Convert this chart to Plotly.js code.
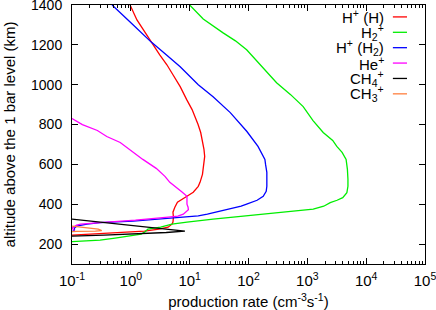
<!DOCTYPE html>
<html><head><meta charset="utf-8">
<script src="https://cdn.plot.ly/plotly-3.0.1.min.js"></script>
<style>html,body{margin:0;padding:0;background:#fff;overflow:hidden;}#chart{width:436px;height:310px;}</style>
</head><body><div id="chart"></div>
<script>
// H+ (H)
var altHH = [245,250,258,265,275,285,300,310,335,360,385,410,440,460,490,510,550,590,640,675,720,760,800,840,875,925,990,1050,1100,1150,1215,1270,1325,1400];
var rateHH = [0.1,0.2,0.5,1.7,3.0,4.3,5.0,5.2,5.3,5.2,5.6,6.2,9,11.5,14,15,16.5,17,18,17.5,16.3,15.4,13.9,12.2,11,8.9,6.9,5.2,4.1,3.1,2.2,1.67,1.27,0.97];
// H2+
var altH2 = [212,220,230,240,250,262,275,285,300,310,316,325,335,342,350,358,365,375,390,408,420,433,458,490,525,575,625,660,690,720,760,820,890,950,1010,1090,1175,1220,1260,1330,1400];
var rateH2 = [0.1,0.3,0.54,0.9,1.5,1.75,1.95,3.2,5,9,15,25,55,93,180,350,700,1260,1900,2450,3200,4000,4700,4900,4900,4800,4560,3900,3170,2700,1860,1250,850,520,300,170,93,60,37,17,10];
// H+ (H2)
var altHH2 = [262,270,280,290,300,308,315,325,333,342,350,360,375,390,400,420,440,465,490,525,560,600,625,690,765,860,940,1000,1090,1150,1215,1300,1400];
var rateHH2 = [0.1,0.11,0.11,0.12,0.18,0.3,1.1,3,7,14,20,28,50,75,93,140,178,200,205,205,205,195,190,145,94,49,25,14,6.9,4.0,2.2,1.1,0.48];
// He+
var altHe = [268,280,295,300,308,315,320,335,340,350,360,372,385,400,420,440,460,485,510,540,580,625,670,710,740,770,800,830];
var rateHe = [0.11,0.1,0.12,0.14,0.3,0.9,1.2,4.3,6.3,7.8,8.7,9.5,9.4,9.0,9.0,9.0,7.5,6,4.6,3.8,2.7,1.6,1.0,0.66,0.39,0.27,0.15,0.1];
// CH4+
var altCH4 = [325,305,285,275,265,258,250,245,240];
var rateCH4 = [0.1,0.47,2.1,4.5,8.3,4,1.1,0.35,0.1];
// CH3+
var altCH3 = [290,282,275,268,265,264,262];
var rateCH3 = [0.1,0.17,0.28,0.32,0.25,0.12,0.1];

var seriesNames = ['H<sup>+</sup> (H)','H<sub>2</sub><sup>+</sup>','H<sup>+</sup> (H<sub>2</sub>)','He<sup>+</sup>','CH<sub>4</sub><sup>+</sup>','CH<sub>3</sub><sup>+</sup>'];
var seriesColors = ['#ff0000','#00ee00','#0000ff','#ff00ff','#000000','#ff7f3f'];
var xTickVals = [0.1,1,10,100,1000,10000,100000];
var xTickText = ['10<sup>-1</sup>','10<sup>0</sup>','10<sup>1</sup>','10<sup>2</sup>','10<sup>3</sup>','10<sup>4</sup>','10<sup>5</sup>'];

var xs = [rateHH, rateH2, rateHH2, rateHe, rateCH4, rateCH3];
var ys = [altHH, altH2, altHH2, altHe, altCH4, altCH3];
var traces = xs.map(function(x,i){
  return {x:x, y:ys[i], type:'scatter', mode:'lines', name:seriesNames[i],
          line:{color:seriesColors[i], width:1.3}, showlegend:false};
});

var F = 'Liberation Sans, Arial, sans-serif';
var annotations = [], shapes = [];
var ly0 = 0.954, lstep = 0.0594;
seriesNames.forEach(function(n,i){
  var yy = ly0 - i*lstep;
  annotations.push({xref:'paper', yref:'paper', x:0.886, y:yy, xanchor:'right', yanchor:'middle',
    text:n, showarrow:false, font:{family:F, size:15, color:'#000'}, borderpad:0});
  shapes.push({type:'line', xref:'paper', yref:'paper', x0:0.909, x1:0.949, y0:yy, y1:yy,
    line:{color:seriesColors[i], width:1.3}});
});

var layout = {
  width:436, height:310,
  margin:{l:72, r:11, t:5, b:46},
  paper_bgcolor:'#fff', plot_bgcolor:'#fff',
  font:{family:F, size:14, color:'#000'},
  xaxis:{type:'log', range:[-1,5], tickmode:'array', tickvals:xTickVals, ticktext:xTickText,
    ticks:'inside', ticklen:6, tickcolor:'#000', showline:true, linecolor:'#000', linewidth:1,
    mirror:'allticks', showgrid:false, zeroline:false, ticklabeloverflow:'allow', ticklabelstandoff:3,
    minor:{dtick:'D1', ticks:'inside', ticklen:3, tickcolor:'#000', showgrid:false},
    title:{text:'production rate (cm<sup>-3</sup>s<sup>-1</sup>)', font:{family:F, size:15}, standoff:10},
    tickfont:{family:F, size:15}},
  yaxis:{range:[100,1400], dtick:200, ticks:'inside', ticklen:6, tickcolor:'#000',
    showline:true, linecolor:'#000', linewidth:1, mirror:'allticks', showgrid:false, zeroline:false,
    ticklabeloverflow:'allow', ticklabelstandoff:6,
    title:{text:'altitude above the 1 bar level (km)', font:{family:F, size:15}, standoff:11},
    tickfont:{family:F, size:14}},
  annotations:annotations, shapes:shapes
};
Plotly.newPlot('chart', traces, layout, {staticPlot:true, displayModeBar:false});
</script></body></html>
